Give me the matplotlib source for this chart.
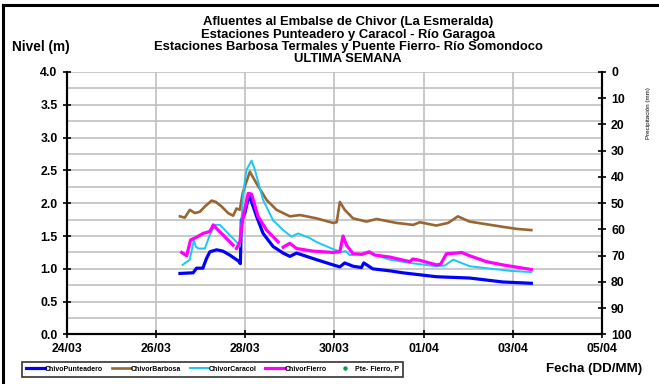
import pandas as pd
import matplotlib
matplotlib.use("Agg")
import matplotlib.pyplot as plt
import matplotlib.dates as mdates
from matplotlib.lines import Line2D
import numpy as np

plt.rcParams['font.family'] = ['Liberation Sans', 'DejaVu Sans']
plt.rcParams['font.weight'] = 'bold'

# horas desde el 24/03 00:00 y nivel (m) de cada estación
t_punt = [61.0, 68.1, 69.9, 73.3, 75.3, 77.1, 80.7, 84.1, 87.8, 92.4, 93.5, 94.0,
          95.9, 98.2, 102.2, 105.7, 111.1, 116.5, 120.1, 123.7, 129.1, 134.4,
          143.4, 147.0, 149.6, 154.1, 158.6, 159.9, 164.7, 173.8, 180.8, 198.9,
          216.8, 234.6, 250.0]
n_punt = [0.93, 0.94, 1.01, 1.01, 1.16, 1.26, 1.29, 1.27, 1.21, 1.12, 1.08, 1.74,
          1.85, 2.13, 1.80, 1.54, 1.34, 1.24, 1.19, 1.24, 1.19, 1.14,
          1.06, 1.03, 1.09, 1.04, 1.02, 1.09, 1.00, 0.97, 0.94, 0.88,
          0.86, 0.80, 0.78]

t_barb = [61.0, 63.6, 66.3, 69.0, 71.7, 74.4, 78.0, 80.3, 83.4, 86.9, 89.6, 91.4,
          93.2, 94.7, 96.4, 98.6, 102.2, 107.6, 112.9, 120.1, 125.5, 134.4,
          143.4, 145.3, 147.0, 149.6, 154.1, 161.3, 166.7, 173.8, 177.4, 186.4,
          190.0, 198.9, 205.2, 210.5, 216.8, 225.8, 234.7, 241.9, 250.0]
n_barb = [1.80, 1.78, 1.90, 1.85, 1.87, 1.95, 2.04, 2.02, 1.95, 1.85, 1.81, 1.92,
          1.90, 2.15, 2.30, 2.48, 2.30, 2.05, 1.90, 1.80, 1.82, 1.77,
          1.70, 1.71, 2.02, 1.90, 1.77, 1.72, 1.76, 1.72, 1.70, 1.67,
          1.71, 1.66, 1.70, 1.80, 1.72, 1.68, 1.64, 1.61, 1.59]

t_cara = [62.4, 66.3, 68.5, 69.5, 70.8, 74.4, 77.1, 79.8, 82.5, 86.9, 91.4, 93.2,
          95.0, 96.8, 99.5, 101.3, 105.7, 111.1, 116.5, 121.0, 124.5, 130.8,
          134.4, 143.4, 147.9, 150.2, 152.3, 163.1, 173.8, 184.6, 198.9, 203.4,
          207.9, 216.8, 225.8, 238.3, 250.0]
n_cara = [1.06, 1.14, 1.44, 1.34, 1.31, 1.31, 1.52, 1.67, 1.67, 1.54, 1.41, 1.34,
          2.15, 2.51, 2.65, 2.51, 2.05, 1.74, 1.59, 1.49, 1.54, 1.47,
          1.41, 1.30, 1.26, 1.27, 1.21, 1.24, 1.14, 1.09, 1.04, 1.05,
          1.14, 1.04, 1.01, 0.97, 0.95]

# NaN = datos faltantes
t_fier = [61.9, 64.6, 66.7, 69.0, 73.5, 77.1, 78.9, 81.5, 85.1, 89.6, 90.5,
          91.4, 93.2, 95.0, 97.7, 99.5, 103.0, 107.6, 113.8, 115.0,
          116.5, 120.1, 123.7, 132.6, 143.4, 147.0, 148.7, 150.6, 154.1, 158.8,
          162.7, 165.8, 173.8, 184.6, 186.2, 190.0, 198.9, 201.2, 204.3, 209.7,
          212.4, 216.8, 225.8, 234.7, 250.0]
n_fier = [1.25, 1.20, 1.44, 1.47, 1.54, 1.57, 1.67, 1.59, 1.49, 1.36, np.nan,
          1.31, 1.41, 1.80, 2.15, 2.14, 1.80, 1.59, 1.41, np.nan,
          1.33, 1.39, 1.31, 1.27, 1.25, 1.26, 1.50, 1.36, 1.23, 1.22,
          1.26, 1.21, 1.18, 1.11, 1.15, 1.13, 1.06, 1.07, 1.23, 1.24,
          1.25, 1.20, 1.11, 1.06, 0.99]

# precipitación Pte-Fierro (sin datos en la semana)
t_prec = []
p_prec = []

t0 = pd.Timestamp('2014-03-24')
def fechas(horas):
    return t0 + pd.to_timedelta(horas, unit='h')

fig = plt.figure(figsize=(6.59, 3.84), dpi=100)
ax = fig.add_axes([0.101, 0.129, 0.8125, 0.6835])
ax2 = ax.twinx()

l1, = ax.plot(fechas(t_punt), n_punt, color='#0000ff', lw=2.3, label='ChivoPunteadero')
l2, = ax.plot(fechas(t_barb), n_barb, color='#996633', lw=1.9, label='ChivorBarbosa')
l3, = ax.plot(fechas(t_cara), n_cara, color='#19c8f5', lw=1.4, label='ChivorCaracol')
l4, = ax.plot(fechas(t_fier), n_fier, color='#ff00ff', lw=2.3, label='ChivorFierro')
l5, = ax2.plot(fechas(t_prec), p_prec, ls='none', marker='o', ms=2.2, color='#00a050',
               label='Pte- Fierro, P')

ax.set_xlim(t0, t0 + pd.Timedelta(days=12))
ax.set_ylim(0, 4)
ax2.set_ylim(100, 0)

ax.set_xticks(pd.date_range(t0, t0 + pd.Timedelta(days=12), freq='2D'))
ax.xaxis.set_major_formatter(mdates.DateFormatter('%d/%m'))
ax.set_yticks(np.arange(0, 4.01, 0.5))
ax.set_yticks(np.arange(0, 4.01, 0.25), minor=True)
ax.yaxis.set_major_formatter(matplotlib.ticker.FormatStrFormatter('%.1f'))
ax2.set_yticks(np.arange(0, 101, 10))

ax.grid(True, which='both', axis='y', color='#c0c0c0', lw=1.2)
ax.grid(True, which='major', axis='x', color='#c0c0c0', lw=1.2)
ax.set_axisbelow(True)

for a in (ax, ax2):
    for s in a.spines.values():
        s.set_linewidth(1.5)
    a.spines['top'].set_visible(False)
ax.tick_params(axis='both', which='major', direction='inout', length=6, width=1.2,
               labelsize=8.8)
ax.tick_params(axis='y', which='minor', length=0)
ax2.tick_params(axis='y', direction='inout', length=6, width=1.2, labelsize=8.8)
for lab in ax.get_xticklabels() + ax.get_yticklabels() + ax2.get_yticklabels():
    lab.set_fontweight('bold')

titulo = ('Afluentes al Embalse de Chivor (La Esmeralda)\n'
          'Estaciones Punteadero y Caracol - Río Garagoa\n'
          'Estaciones Barbosa Termales y Puente Fierro- Río Somondoco\n'
          'ULTIMA SEMANA')
fig.text(0.528, 0.958, titulo, ha='center', va='top', fontsize=9.4,
         fontweight='bold', linespacing=1.05)
fig.text(0.018, 0.877, 'Nivel (m)', ha='left', va='center', fontsize=9.8, fontweight='bold')
fig.text(0.984, 0.705, 'Precipitación (mm)', rotation=90, ha='center', va='center',
         fontsize=4.5, fontweight='normal')
fig.text(0.829, 0.040, 'Fecha (DD/MM)', ha='left', va='center', fontsize=9.6,
         fontweight='bold')

leg = fig.legend(handles=[l1, l2, l3, l4, l5], loc='center', ncol=5,
                 bbox_to_anchor=(0.322, 0.038), fontsize=5, frameon=True,
                 fancybox=False, edgecolor='black', handlelength=2.8,
                 handletextpad=0.0, columnspacing=1.2, borderpad=0.6)
leg.get_frame().set_linewidth(1.2)
for txt in leg.get_texts():
    txt.set_fontweight('bold')

# marco exterior de la figura
fig.add_artist(Line2D([0.005, 1.0], [0.987, 0.987], color='black', lw=2.2,
                      transform=fig.transFigure))
fig.add_artist(Line2D([0.005, 0.005], [0.0, 0.987], color='black', lw=2.2,
                      transform=fig.transFigure))

plt.savefig('out.png', dpi=100)
